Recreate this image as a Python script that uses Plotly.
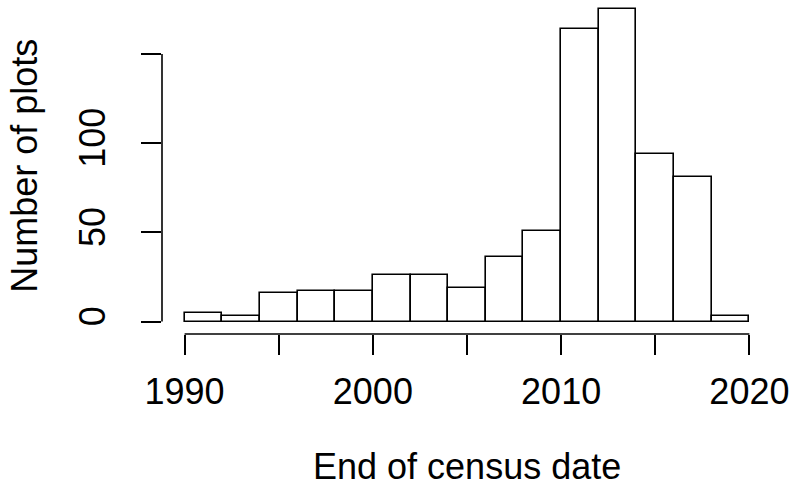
import plotly.graph_objects as go

# Histogram of census end dates (bins of 2 years)
bin_edges = [1990, 1992, 1994, 1996, 1998, 2000, 2002, 2004, 2006, 2008,
             2010, 2012, 2014, 2016, 2018, 2020]
counts = [5, 3, 16, 17, 17, 26, 26, 19, 36, 51, 164, 175, 94, 81, 3]

x_ticks = [1990, 1995, 2000, 2005, 2010, 2015, 2020]
x_ticktext = ["1990", "", "2000", "", "2010", "", "2020"]
y_ticks = [0, 50, 100, 150]
y_ticktext = ["0", "50", "100", ""]

x_title = "End of census date"
y_title = "Number of plots"

centers = [(a + b) / 2 for a, b in zip(bin_edges[:-1], bin_edges[1:])]
widths = [b - a for a, b in zip(bin_edges[:-1], bin_edges[1:])]

FONT = "Liberation Sans, Arial, Helvetica, sans-serif"
FS = 36
LW = 1.6

fig = go.Figure()
fig.add_trace(go.Bar(
    x=centers, y=counts, width=widths,
    marker=dict(color="white", line=dict(color="black", width=LW)),
    hoverinfo="x+y",
))

# R-style extended ranges (4% each side)
xr = bin_edges[-1] - bin_edges[0]
x_range = [bin_edges[0] - 0.04 * xr, bin_edges[-1] + 0.04 * xr]
ymax = max(counts)
plot_h = 334.5
y_lo = -0.04 * ymax
y_hi_full = ymax + 0.04 * ymax
px_per_unit = (plot_h + 3.2) / (y_hi_full - y_lo)
y_hi = y_hi_full - 3.2 / px_per_unit

fig.update_layout(
    width=790, height=489,
    margin=dict(l=162.4, r=18.4, t=0, b=489 - plot_h, pad=0),
    paper_bgcolor="white", plot_bgcolor="white",
    showlegend=False,
    font=dict(family=FONT, size=FS, color="black"),
    bargap=0,
    xaxis=dict(
        range=x_range, tickmode="array", tickvals=x_ticks, ticktext=x_ticktext,
        ticks="outside", ticklen=20, tickwidth=LW, tickcolor="black",
        showline=False, showgrid=False, zeroline=False,
        tickfont=dict(family=FONT, size=FS, color="black"),
        ticklabelstandoff=6,
    ),
    yaxis=dict(
        range=[y_lo, y_hi], tickmode="array", tickvals=y_ticks, ticktext=y_ticktext,
        ticks="outside", ticklen=20, tickwidth=LW, tickcolor="black",
        showline=False, showgrid=False, zeroline=False, tickangle=-90,
        tickfont=dict(family=FONT, size=FS, color="black"),
        ticklabelstandoff=22,
    ),
    shapes=[
        dict(type="line", xref="x", yref="paper", x0=x_ticks[0], x1=x_ticks[-1],
             y0=0, y1=0, line=dict(color="black", width=LW)),
        dict(type="line", xref="paper", yref="y", x0=0, x1=0,
             y0=y_ticks[0], y1=y_ticks[-1], line=dict(color="black", width=LW)),
    ],
    annotations=[
        dict(text=x_title, xref="paper", yref="paper", x=0.5, y=-(467 - plot_h) / plot_h,
             xanchor="center", yanchor="middle", showarrow=False,
             font=dict(family=FONT, size=FS, color="black")),
        dict(text=y_title, xref="paper", yref="paper",
             x=-(162.4 - 25) / (790 - 162.4 - 18.4), y=(plot_h - 165.6) / plot_h,
             xanchor="center", yanchor="middle", textangle=-90, showarrow=False,
             font=dict(family=FONT, size=FS, color="black")),
    ],
)

fig.write_html("out.html")
